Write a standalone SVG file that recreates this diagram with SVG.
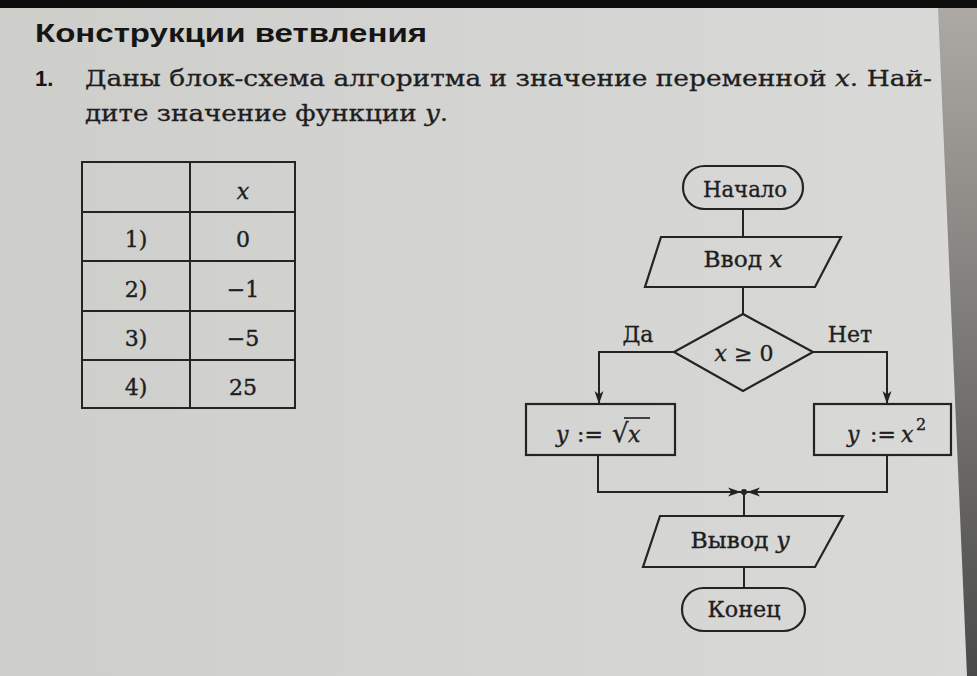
<svg xmlns="http://www.w3.org/2000/svg" width="977" height="676" viewBox="0 0 977 676">
<defs>
<linearGradient id="page" x1="0" y1="0" x2="1" y2="0">
<stop offset="0" stop-color="#cececb"/>
<stop offset="1" stop-color="#d9d9d8"/>
</linearGradient>
<linearGradient id="edge" x1="0" y1="0" x2="0" y2="1">
<stop offset="0" stop-color="#aeaaa5"/>
<stop offset="0.5" stop-color="#7c7a77"/>
<stop offset="1" stop-color="#4a4a4a"/>
</linearGradient>
<marker id="arr" markerUnits="userSpaceOnUse" markerWidth="14" markerHeight="10" refX="13" refY="5" orient="auto">
<path d="M0,0.5 L13,5 L0,9.5 L3.5,5 Z" fill="#222"/>
</marker>
</defs>
<style>
.ln{fill:none;stroke:#242424;stroke-width:2}
.sh{fill:none;stroke:#242424;stroke-width:2.2;stroke-linejoin:miter}
.tx{font-family:"DejaVu Serif","Liberation Serif",serif;font-size:22px;fill:#1e1e1e;stroke:#1e1e1e;stroke-width:0.35}
.it{font-style:italic}
.body{font-family:"DejaVu Serif","Liberation Serif",serif;font-size:22px;fill:#1e1e1e;stroke:#1e1e1e;stroke-width:0.3}
.hd{font-family:"Liberation Sans",Arial,sans-serif;font-weight:bold;fill:#151515}
.tb{font-family:"DejaVu Serif","Liberation Serif",serif;font-size:22px;fill:#1e1e1e;stroke:#1e1e1e;stroke-width:0.4;text-anchor:middle}
</style>

<!-- photo background -->
<rect x="0" y="0" width="977" height="676" fill="url(#edge)"/>
<polygon points="0,8 938,8 967,676 0,676" fill="url(#page)"/>
<rect x="0" y="0" width="977" height="8" fill="#0d0d0d"/>

<!-- heading and task text -->
<g id="heading">
<text class="hd" x="35" y="42" font-size="25" textLength="392" lengthAdjust="spacingAndGlyphs">Конструкции ветвления</text>
<text class="hd" x="35" y="86" font-size="22">1.</text>
<text class="body" x="85" y="86" textLength="847" lengthAdjust="spacingAndGlyphs">Даны блок-схема алгоритма и значение переменной <tspan class="it">x</tspan>. Най-</text>
<text class="body" x="85" y="121" textLength="363" lengthAdjust="spacingAndGlyphs">дите значение функции <tspan class="it">y</tspan>.</text>
</g>

<!-- table -->
<g id="table">
<rect x="82" y="162" width="213" height="246" class="ln"/>
<line x1="190" y1="162" x2="190" y2="408" class="ln"/>
<line x1="82" y1="212" x2="295" y2="212" class="ln"/>
<line x1="82" y1="261" x2="295" y2="261" class="ln"/>
<line x1="82" y1="311" x2="295" y2="311" class="ln"/>
<line x1="82" y1="360" x2="295" y2="360" class="ln"/>
<text class="tb it" x="243" y="199">x</text>
<text class="tb" x="136" y="247">1)</text>
<text class="tb" x="243" y="247">0</text>
<text class="tb" x="136" y="297">2)</text>
<text class="tb" x="243" y="297">−1</text>
<text class="tb" x="136" y="346">3)</text>
<text class="tb" x="243" y="346">−5</text>
<text class="tb" x="136" y="395">4)</text>
<text class="tb" x="243" y="395">25</text>
</g>

<!-- connectors -->
<g id="connectors">
<path class="ln" d="M743,209 V237"/>
<path class="ln" d="M743,287 V314"/>
<path class="ln" d="M674,352 H599 V404" marker-end="url(#arr)"/>
<path class="ln" d="M813,352 H887 V404" marker-end="url(#arr)"/>
<path class="ln" d="M598,455 V492 H741" marker-end="url(#arr)"/>
<path class="ln" d="M887,455 V492 H747" marker-end="url(#arr)"/>
<circle cx="744" cy="492" r="3" fill="#222"/>
<path class="ln" d="M744,492 V516"/>
<path class="ln" d="M744,567 V588"/>
<text class="tx" x="638" y="342" text-anchor="middle">Да</text>
<text class="tx" x="850" y="342" text-anchor="middle">Нет</text>
</g>

<g id="start">
<rect x="683" y="166" width="120" height="43" rx="21.5" class="sh"/>
<text class="tx" x="745" y="197" text-anchor="middle" textLength="84" lengthAdjust="spacingAndGlyphs">Начало</text>
</g>

<g id="input">
<polygon points="661,237 841,237 815,287 645,287" class="sh"/>
<text class="tx" x="743" y="267" text-anchor="middle" textLength="79" lengthAdjust="spacingAndGlyphs">Ввод <tspan class="it">x</tspan></text>
</g>

<g id="decision">
<polygon points="743,314 813,352 743,391 674,352" class="sh"/>
<text class="tx" x="744" y="361" text-anchor="middle"><tspan class="it">x</tspan> ≥ 0</text>
</g>

<g id="assign-sqrt">
<rect x="526" y="404" width="149" height="51" class="sh"/>
<text class="tx" y="442"><tspan class="it" x="556">y</tspan><tspan x="577">:=</tspan><tspan x="612" font-size="26">√</tspan><tspan class="it" x="628">x</tspan></text>
<line x1="624" y1="418" x2="650" y2="418" stroke="#1e1e1e" stroke-width="1.6"/>
</g>

<g id="assign-square">
<rect x="814" y="404" width="137" height="51" class="sh"/>
<text class="tx" y="442"><tspan class="it" x="847">y</tspan><tspan x="870">:=</tspan><tspan class="it" x="901">x</tspan><tspan x="916" y="430" font-size="16">2</tspan></text>
</g>

<g id="output">
<polygon points="660,516 843,516 815,567 643,567" class="sh"/>
<text class="tx" x="740" y="548" text-anchor="middle" textLength="99" lengthAdjust="spacingAndGlyphs">Вывод <tspan class="it">y</tspan></text>
</g>

<g id="end">
<rect x="682" y="588" width="123" height="43" rx="21.5" class="sh"/>
<text class="tx" x="744" y="617" text-anchor="middle" textLength="73" lengthAdjust="spacingAndGlyphs">Конец</text>
</g>
</svg>
